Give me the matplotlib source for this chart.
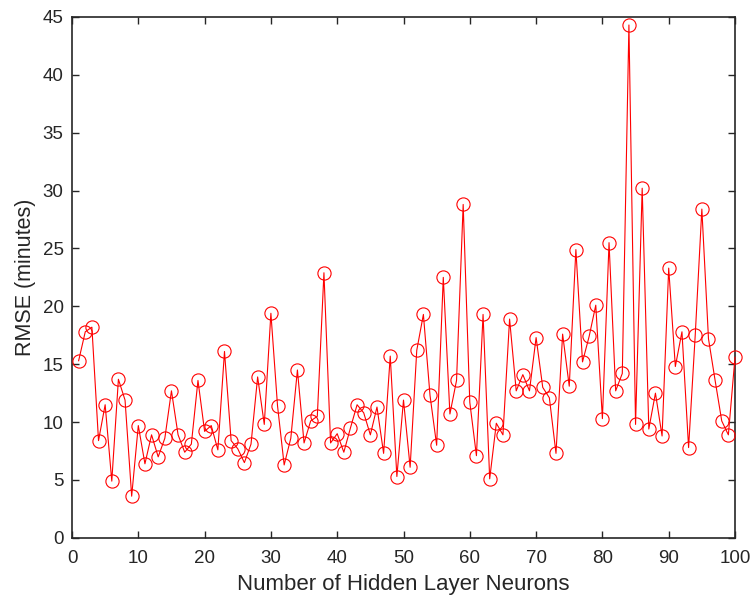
import numpy as np
import matplotlib
matplotlib.use("Agg")
import matplotlib.pyplot as plt

# hidden layer neurons vs RMSE
neurons = np.arange(1, 101)
rmse = [15.3, 17.8, 18.2, 8.4, 11.5, 4.9, 13.7, 11.9, 3.6, 9.7,
        6.4, 8.9, 7.0, 8.6, 12.7, 8.9, 7.4, 8.1, 13.6, 9.2,
        9.7, 7.6, 16.1, 8.4, 7.7, 6.5, 8.1, 13.9, 9.8, 19.4,
        11.4, 6.3, 8.6, 14.5, 8.2, 10.1, 10.5, 22.9, 8.2, 9.0,
        7.4, 9.5, 11.5, 10.8, 8.9, 11.3, 7.3, 15.7, 5.3, 11.9,
        6.1, 16.2, 19.3, 12.3, 8.0, 22.5, 10.7, 13.6, 28.8, 11.7,
        7.1, 19.3, 5.1, 9.9, 8.9, 18.9, 12.7, 14.1, 12.7, 17.3,
        13.0, 12.1, 7.3, 17.6, 13.1, 24.9, 15.2, 17.4, 20.1, 10.3,
        25.5, 12.7, 14.2, 44.3, 9.8, 30.2, 9.4, 12.5, 8.8, 23.3,
        14.8, 17.8, 7.8, 17.5, 28.4, 17.2, 13.6, 10.1, 8.9, 15.6]

plt.rcParams['font.family'] = ['Liberation Sans', 'DejaVu Sans']

fig = plt.figure(figsize=(7.5, 6.03), dpi=100)
ax = fig.add_axes([0.096, 0.108, 0.884, 0.864])

ax.plot(neurons, rmse, color='red', linewidth=0.8, marker='o',
        markersize=9.5, markerfacecolor='none', markeredgecolor='red',
        markeredgewidth=0.8, clip_on=False, zorder=3)

ax.set_xlim(0, 100)
ax.set_ylim(0, 45)
ax.set_xticks(np.arange(0, 101, 10))
ax.set_yticks(np.arange(0, 46, 5))
ax.tick_params(direction='in', top=True, right=True, labelsize=13.5,
               colors='0.15', length=5, width=1, pad=6)
ax.tick_params(axis='x', pad=9)
for s in ax.spines.values():
    s.set_color('0.15')
    s.set_linewidth(1.2)
ax.set_xlabel('Number of Hidden Layer Neurons', fontsize=16, color='0.15',
              labelpad=5)
ax.set_ylabel('RMSE (minutes)', fontsize=15.5, color='0.15', labelpad=5)

fig.savefig('out.png', dpi=100)
